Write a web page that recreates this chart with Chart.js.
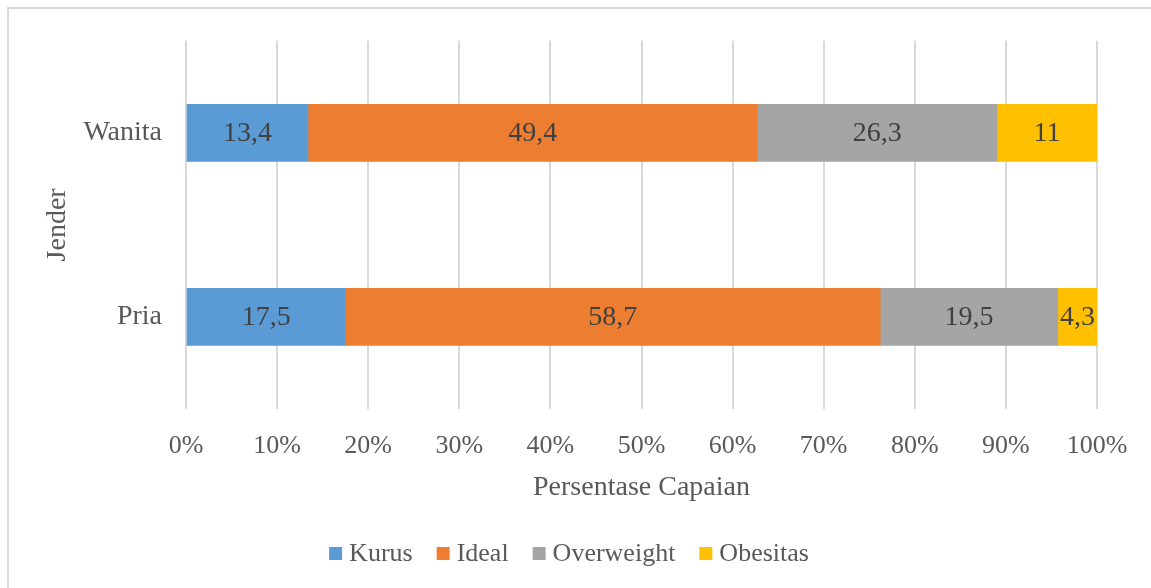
<!DOCTYPE html>
<html>
<head>
<meta charset="utf-8">
<script src="https://cdn.jsdelivr.net/npm/chart.js@4/dist/chart.umd.min.js"></script>
<style>
  html, body { margin: 0; padding: 0; background: #fff; }
  #wrap { width: 1151px; height: 588px; position: relative; }
</style>
</head>
<body>
<div id="wrap"><canvas id="myChart" width="1151" height="588"></canvas></div>
<script>
// data
var categories = ['Wanita', 'Pria'];
var seriesNames = ['Kurus', 'Ideal', 'Overweight', 'Obesitas'];
var kurus = [13.4, 17.5];
var ideal = [49.4, 58.7];
var overweight = [26.3, 19.5];
var obesitas = [11, 4.3];
var colors = ['#5B9BD5', '#ED7D31', '#A5A5A5', '#FFC000'];

var rawSeries = [kurus, ideal, overweight, obesitas];

// 100% stacked: each row is scaled to its own total
var totals = categories.map(function (c, i) {
    return rawSeries.reduce(function (s, arr) { return s + arr[i]; }, 0);
});

var FONT = "'Liberation Serif', 'Times New Roman', serif";

var frame = {
    id: 'frame',
    beforeDraw: function (chart) {
        var c = chart.ctx;
        c.save();
        c.fillStyle = '#fff';
        c.fillRect(0, 0, chart.width, chart.height);
        c.strokeStyle = '#d9d9d9';
        c.lineWidth = 2;
        c.beginPath();
        c.moveTo(8, chart.height + 5);
        c.lineTo(8, 8);
        c.lineTo(chart.width + 5, 8);
        c.stroke();
        c.restore();
    }
};

var barLabels = {
    id: 'barLabels',
    afterDatasetsDraw: function (chart) {
        var c = chart.ctx;
        c.save();
        c.font = '28px ' + FONT;
        c.fillStyle = '#404040';
        c.textAlign = 'center';
        c.textBaseline = 'middle';
        chart.data.datasets.forEach(function (ds, di) {
            var meta = chart.getDatasetMeta(di);
            meta.data.forEach(function (el, i) {
                var txt = String(rawSeries[di][i]).replace('.', ',');
                c.fillText(txt, (el.x + el.base) / 2, el.y + 1);
            });
        });
        c.restore();
    }
};

// legend drawn by hand, Excel-like spacing (small gap between box and text)
var bottomLegend = {
    id: 'bottomLegend',
    afterDraw: function (chart) {
        var c = chart.ctx;
        var box = 13, gap = 7, itemGap = 24, y = 553;
        c.save();
        c.font = '26px ' + FONT;
        c.textBaseline = 'middle';
        c.textAlign = 'left';
        var widths = seriesNames.map(function (n) { return box + gap + c.measureText(n).width; });
        var total = widths.reduce(function (a, b) { return a + b; }, 0) + itemGap * (widths.length - 1);
        var x = 569 - total / 2;
        seriesNames.forEach(function (n, k) {
            c.fillStyle = colors[k];
            c.fillRect(x, y - 6, box, box);
            c.fillStyle = '#595959';
            c.fillText(n, x + box + gap, y + 1);
            x += widths[k] + itemGap;
        });
        c.restore();
    }
};

var ctx = document.getElementById('myChart').getContext('2d');

var myChart = new Chart(ctx, {
    type: 'bar',
    data: {
        labels: categories,
        datasets: seriesNames.map(function (name, k) {
            return {
                label: name,
                data: rawSeries[k].map(function (v, i) { return v / totals[i] * 100; }),
                backgroundColor: colors[k],
                borderWidth: 0,
                barThickness: 57
            };
        })
    },
    options: {
        indexAxis: 'y',
        responsive: false,
        animation: false,
        layout: { padding: { left: 8, top: 38, right: 54, bottom: 68 } },
        plugins: {
            legend: { display: false },
            tooltip: { enabled: false }
        },
        scales: {
            x: {
                stacked: true,
                min: 0,
                max: 100,
                grid: { color: '#d9d9d9', lineWidth: 2, drawTicks: false },
                border: { display: false },
                ticks: {
                    stepSize: 10,
                    padding: 22,
                    color: '#595959',
                    font: { family: FONT, size: 26 },
                    maxRotation: 0,
                    callback: function (v) { return v + '%'; }
                },
                title: {
                    display: true,
                    text: 'Persentase Capaian',
                    color: '#595959',
                    font: { family: FONT, size: 28 },
                    padding: { top: 0, bottom: 16 }
                },
                afterFit: function (scale) { scale.height = 111; }
            },
            y: {
                stacked: true,
                grid: { display: false, drawTicks: false },
                border: { display: false },
                ticks: {
                    padding: 24,
                    color: '#595959',
                    font: { family: FONT, size: 28 }
                },
                title: {
                    display: true,
                    text: 'Jender',
                    color: '#595959',
                    font: { family: FONT, size: 28 },
                    padding: { top: 33, bottom: 0 }
                },
                afterFit: function (scale) { scale.width = 178; }
            }
        }
    },
    plugins: [frame, barLabels, bottomLegend]
});
</script>
</body>
</html>
